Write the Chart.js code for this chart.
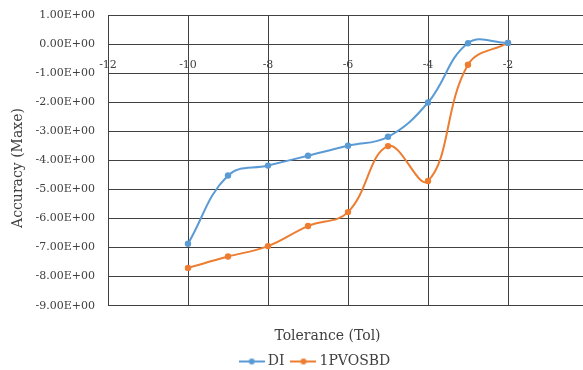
<!DOCTYPE html>
<html>
<head>
<meta charset="utf-8">
<script src="https://cdn.jsdelivr.net/npm/chart.js@4/dist/chart.umd.min.js"></script>
<style>
  html, body { margin: 0; padding: 0; background: #ffffff; overflow: hidden; }
  #wrap { width: 583px; height: 370px; overflow: hidden; }
  canvas { display: block; }
</style>
</head>
<body>
<div id="wrap"><canvas id="chart" width="600" height="370"></canvas></div>
<script>
// Tolerance (Tol) values on the x axis
const tolerance = [-10, -9, -8, -7, -6, -5, -4, -3, -2];
// Accuracy (Maxe) per method
const diValues = [-6.87, -4.52, -4.18, -3.84, -3.50, -3.19, -2.01, 0.03, 0.04];
const pvosbdValues = [-7.70, -7.31, -6.95, -6.26, -5.78, -3.51, -4.71, -0.71, 0.04];
const seriesNames = ['DI', '1PVOSBD'];
const seriesColors = ['#5B9BD5', '#ED7D31'];
const yAxisTitle = 'Accuracy (Maxe)';
const xAxisTitle = 'Tolerance (Tol)';

const FONT = "'DejaVu Serif', serif";
const TEXT = '#404040';
const GRID = '#404040';

// y tick labels in Excel-style scientific notation, e.g. -3.00E+00
function sci(v) {
  if (Math.abs(v) < 1e-9) return '0.00E+00';
  const e = Math.floor(Math.log10(Math.abs(v)));
  const m = v / Math.pow(10, e);
  const ae = String(Math.abs(e)).padStart(2, '0');
  return m.toFixed(2) + 'E' + (e < 0 ? '-' : '+') + ae;
}

// legend swatch: short line with a round marker in the middle
function swatch(color) {
  const c = document.createElement('canvas');
  c.width = 26; c.height = 10;
  const g = c.getContext('2d');
  g.strokeStyle = color; g.lineWidth = 2;
  g.beginPath(); g.moveTo(0, 5); g.lineTo(26, 5); g.stroke();
  g.fillStyle = color;
  g.beginPath(); g.arc(13, 5, 3, 0, Math.PI * 2); g.fill();
  return c;
}

const toPoints = (ys) => tolerance.map((x, i) => ({ x: x, y: ys[i] }));

// centres the x-axis title and legend horizontally
const boxShift = {
  id: 'boxShift',
  afterLayout(chart) {
    const centre = (box, cx) => {
      if (!box) return;
      const dx = cx - (box.left + box.right) / 2;
      box.left += dx; box.right += dx;
    };
    centre(chart.titleBlock, 327.5);
    centre(chart.legend, 316.5);
  }
};

// vertical y-axis title on the far left
const yTitle = {
  id: 'yTitle',
  afterDraw(chart) {
    const ctx = chart.ctx;
    ctx.save();
    ctx.translate(18, 168);
    ctx.rotate(-Math.PI / 2);
    ctx.fillStyle = TEXT;
    ctx.font = '14px ' + FONT;
    ctx.textAlign = 'center';
    ctx.textBaseline = 'middle';
    ctx.fillText(yAxisTitle, 0, 0);
    ctx.restore();
  }
};

// the plot area edges come from the layout padding only
const noEdgePadding = (scale) => {
  scale.paddingTop = 0; scale.paddingBottom = 0;
  scale.paddingLeft = 0; scale.paddingRight = 0;
};

new Chart(document.getElementById('chart'), {
  type: 'line',
  data: {
    datasets: [
      {
        label: seriesNames[0],
        data: toPoints(diValues),
        borderColor: seriesColors[0],
        backgroundColor: seriesColors[0],
        borderWidth: 2,
        pointRadius: 3.2,
        pointBorderWidth: 0,
        tension: 0.4,
        fill: false
      },
      {
        label: seriesNames[1],
        data: toPoints(pvosbdValues),
        borderColor: seriesColors[1],
        backgroundColor: seriesColors[1],
        borderWidth: 2,
        pointRadius: 3.2,
        pointBorderWidth: 0,
        tension: 0.4,
        fill: false
      }
    ]
  },
  options: {
    responsive: false,
    animation: false,
    devicePixelRatio: 1,
    clip: false,
    layout: { padding: { top: 15, right: 12, bottom: -8.5, left: 0 } },
    scales: {
      x: {
        type: 'linear',
        position: { y: 0 },
        min: -12,
        max: 0,
        afterFit: noEdgePadding,
        grid: { color: GRID, lineWidth: 1, drawTicks: false },
        border: { color: GRID, width: 1 },
        ticks: {
          stepSize: 2,
          padding: 14,
          color: TEXT,
          font: { family: FONT, size: 11 },
          maxRotation: 0
        }
      },
      y: {
        type: 'linear',
        position: 'left',
        min: -9,
        max: 1,
        afterFit(scale) { scale.width = 108; noEdgePadding(scale); },
        grid: { color: GRID, lineWidth: 1, drawTicks: false },
        border: { color: GRID, width: 1 },
        ticks: {
          stepSize: 1,
          padding: 13,
          color: TEXT,
          font: { family: FONT, size: 11 },
          callback: (v) => sci(v)
        }
      }
    },
    plugins: {
      title: {
        display: true,
        text: xAxisTitle,
        position: 'bottom',
        weight: 500,
        color: TEXT,
        font: { family: FONT, size: 14, weight: 'normal' },
        padding: { top: 22, bottom: 0 }
      },
      legend: {
        display: true,
        position: 'bottom',
        labels: {
          color: TEXT,
          font: { family: FONT, size: 14 },
          usePointStyle: true,
          pointStyleWidth: 18,
          padding: 10,
          generateLabels(chart) {
            return chart.data.datasets.map((ds, i) => ({
              text: ds.label,
              fillStyle: ds.borderColor,
              strokeStyle: ds.borderColor,
              fontColor: TEXT,
              lineWidth: 0,
              pointStyle: swatch(ds.borderColor),
              hidden: !chart.isDatasetVisible(i),
              datasetIndex: i
            }));
          }
        }
      },
      tooltip: { enabled: false }
    }
  },
  plugins: [boxShift, yTitle]
});
</script>
</body>
</html>
